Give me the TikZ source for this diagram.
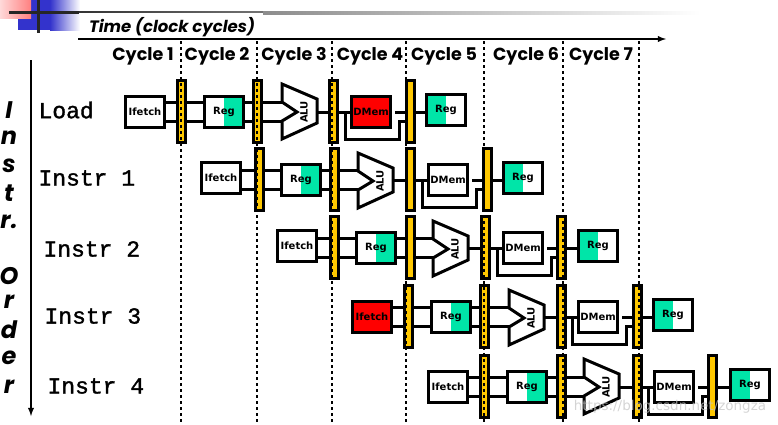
\documentclass[tikz,border=0pt]{standalone}
\usepackage{fontspec}
\setmainfont{DejaVu Sans}
\newfontfamily\headfont{Poppins}
\newfontfamily\rowfont[FakeBold=1.5]{Liberation Mono}
\definecolor{latchyellow}{HTML}{FFC800}
\definecolor{regteal}{HTML}{00E5A8}
\definecolor{slideblue}{HTML}{3333CC}
\begin{document}
\begin{tikzpicture}[x=1pt,y=-1pt,
  stagebox/.style={draw=black,line width=3pt,anchor=north west,minimum width=39pt,minimum height=31pt,inner sep=0pt,font=\bfseries\fontsize{10}{10}\selectfont},
  regwrite/.style={stagebox,path picture={\fill[regteal] (path picture bounding box.north west) rectangle (path picture bounding box.south);}},
  regread/.style={stagebox,path picture={\fill[regteal] (path picture bounding box.north) rectangle (path picture bounding box.south east);}},
  latch/.style={draw=black,line width=3pt,fill=latchyellow,anchor=north west,minimum width=7.5pt,minimum height=62pt,inner sep=0pt},
  wire/.style={line width=3pt},
  unitshape/.style={draw=black,line width=3pt,fill=white,line join=miter},
  cyclemark/.style={line width=2.5pt,dash pattern=on 3pt off 3pt},
  cyclelabel/.style={font=\headfont\bfseries\fontsize{17.5}{17.5}\selectfont},
  rowlabel/.style={anchor=west,font=\rowfont\fontsize{23}{23}\selectfont},
  orderletter/.style={font=\headfont\bfseries\itshape\fontsize{24}{24}\selectfont}]
  \useasboundingbox (0,0) rectangle (778,424);
  % corner of the slide
  \shade[left color=slideblue,right color=white] (50,0) rectangle (80,30); \fill[slideblue] (18,0) rectangle (50,30);
  \shade[left color=red!15,right color=red!50] (0,0) rectangle (31,18);
  \shade[left color=black!80,right color=black!55] (78,11) rectangle (263,12.5);
  \shade[left color=black!45,right color=white] (263,11) rectangle (700,14);
  \draw[line width=3pt,black!85] (9,12) -- (79,12); \draw[line width=3pt,black!85] (38,0) -- (38,33);
  % axes
  \coordinate (timeL) at (78,39); \coordinate (timeR) at (666,39); \coordinate (orderT) at (31,60); \coordinate (orderB) at (31,416);
  \draw[line width=1.8pt,-latex] (timeL) -- (timeR); \draw[line width=1.8pt,-latex] (orderT) -- (orderB);
  \node[font=\headfont\bfseries\itshape\fontsize{16.5}{16.5}\selectfont] (timelabel) at (172,27) {Time (clock cycles)};
  % cycle labels
  \foreach \n/\x in {1/143,2/217,3/294,4/370,5/444,6/526,7/601} \node[cyclelabel] (cycle\n) at (\x,56) {Cycle \n};
  % order letters
  \foreach \n/\c/\y in {1/I/110,2/n/138,3/s/166,4/t/193,5/r./222,6/O/276,7/r/302,8/d/330,9/e/358,10/r/387} \node[orderletter] (order\n) at (9,\y) {\c};
  % row labels
  \node[rowlabel] (rowload) at (35,110) {Load}; \node[rowlabel] (rowone) at (35,178) {Instr 1}; \node[rowlabel] (rowtwo) at (40,249) {Instr 2};
  \node[rowlabel] (rowthree) at (41,316) {Instr 3}; \node[rowlabel] (rowfour) at (44,386) {Instr 4};
  % one row: ifetch, latch, reg, latch, alu, latch, dmem, latch, reg
  \foreach \rowid/\ya/\yb/\yc/\yl/\ta/\xi/\xj/\xr/\xk/\xa/\xm/\xd/\xn/\xg/\ci/\cd in {
    a/95/95/93/79/84/124/176/203/252/282/328/350/405/425/white/red,
    b/161/163/161/147/153/200/254/280/329/358/405/427/482/502/white/white,
    c/229/231/229/215/221/276/329/355/405/433/480/502/556/577/white/white,
    d/300/300/298/284/290/351/403/430/479/509/556/577/632/652/red/white,
    e/370/370/368/354/359/427/479/506/556/584/632/653/707/729/white/white}{
    \node[stagebox,fill=\ci] (ifetch\rowid) at (\xi,\ya) {Ifetch};
    \node[regread] (regr\rowid) at (\xr,\yb) {Reg};
    \node[stagebox,fill=\cd] (dmem\rowid) at (\xd,\yb) {DMem};
    \node[regwrite] (regw\rowid) at (\xg,\yc) {Reg};
    \foreach \m/\xx in {1/\xj,2/\xk,3/\xm,4/\xn} \node[latch] (latch\m\rowid) at (\xx,\yl) {};
    \coordinate (up\rowid) at (0,\yb+7); \coordinate (down\rowid) at (0,\yb+26.5); \coordinate (mid\rowid) at (0,\yb+17);
    \coordinate (aluin\rowid) at (\xa+1,\yb); \coordinate (aluout\rowid) at (\xa+35,\yb+17);
    \coordinate (dmemgap\rowid) at (\xd+45,\yb+17); \coordinate (bypassA\rowid) at (\xd-5,\yb+44); \coordinate (bypassB\rowid) at (\xd+49,\yb+44);
    \draw[unitshape] (\xa,\ta) -- (\xa+35,\ta+15) -- (\xa+35,\ta+39) -- (\xa,\ta+55) -- (\xa,\ta+37) -- (\xa+15,\ta+28) -- (\xa,\ta+18) -- cycle;
    \node[rotate=90,font=\bfseries\fontsize{10}{10}\selectfont] (alu\rowid) at (\xa+22,\ta+28) {ALU};
    \foreach \lev in {up,down} {
      \draw[wire] (ifetch\rowid.east |- \lev\rowid) -- (latch1\rowid.west |- \lev\rowid);
      \draw[wire] (latch1\rowid.east |- \lev\rowid) -- (regr\rowid.west |- \lev\rowid);
      \draw[wire] (regr\rowid.east |- \lev\rowid) -- (latch2\rowid.west |- \lev\rowid);
      \draw[wire] (latch2\rowid.east |- \lev\rowid) -- (aluin\rowid |- \lev\rowid);}
    \draw[wire] (aluout\rowid) -- (latch3\rowid.west |- aluout\rowid);
    \draw[wire] (latch3\rowid.east |- mid\rowid) -- (dmem\rowid.west |- mid\rowid);
    \draw[wire] (dmemgap\rowid) -- (latch4\rowid.west |- mid\rowid);
    \draw[wire] (latch4\rowid.east |- mid\rowid) -- (regw\rowid.west |- mid\rowid);
    \draw[wire] (bypassA\rowid |- mid\rowid) -- (bypassA\rowid) -- (bypassB\rowid) -- (bypassB\rowid |- down\rowid) -- (latch4\rowid.west |- down\rowid);
  }
  % cycle boundaries go over the latches
  \foreach \n/\x in {1/181,2/257,3/332,4/406,5/484,6/563,7/639} {
    \coordinate (markT\n) at (\x,41); \coordinate (markB\n) at (\x,424);
    \draw[cyclemark] (markT\n) -- (markB\n);}
  \node[font=\fontsize{13.5}{13.5}\selectfont,text=gray!45,opacity=.75] (watermark) at (670,407) {https://blog.csdn.net/zongza};
\end{tikzpicture}
\end{document}
